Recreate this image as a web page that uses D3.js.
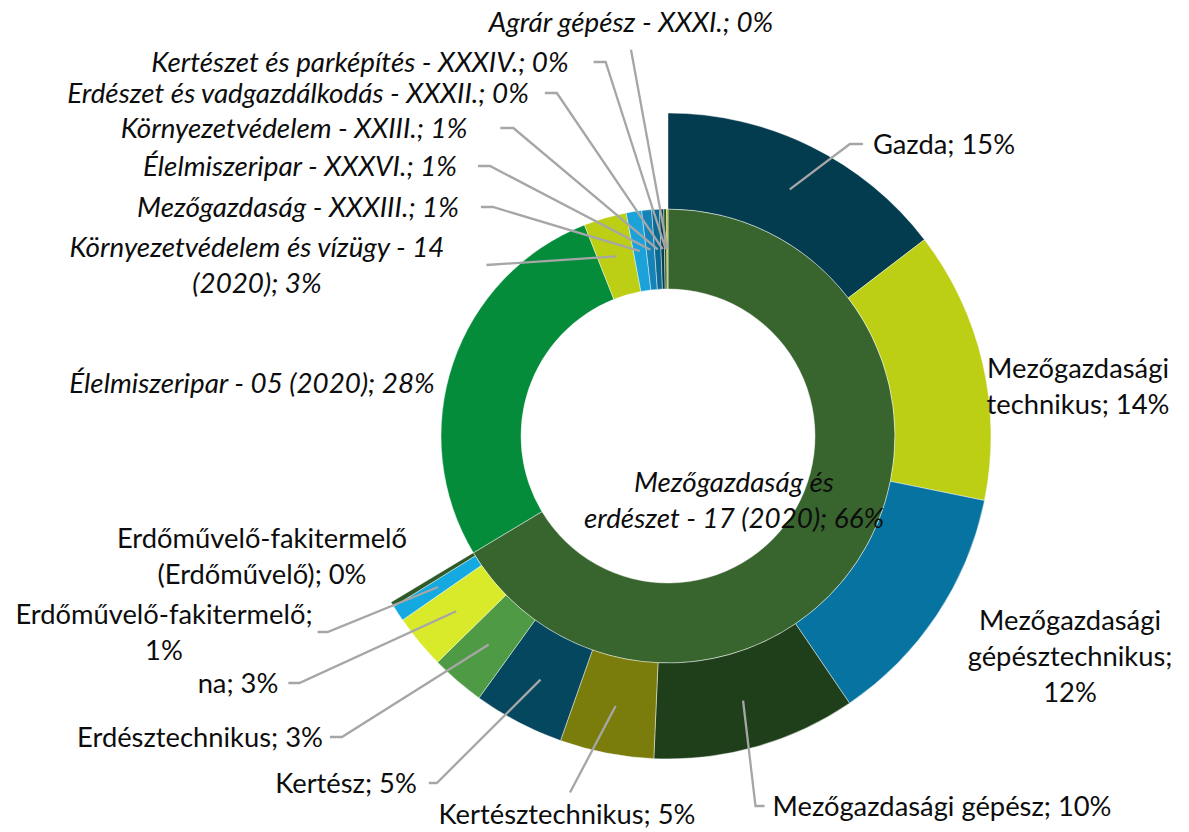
<!DOCTYPE html>
<html><head><meta charset="utf-8">
<script src="https://cdn.jsdelivr.net/npm/d3@7"></script>
<style>html,body{margin:0;padding:0;background:#fff;} svg{display:block;}</style>
</head><body>
<svg id="chart" width="1189" height="832"></svg>
<script>
// ---------- DATA (percent of total) ----------
const innerNames = [
  "Mezőgazdaság és erdészet - 17 (2020)",
  "Élelmiszeripar - 05 (2020)",
  "Környezetvédelem és vízügy - 14 (2020)",
  "Mezőgazdaság - XXXIII.",
  "Élelmiszeripar - XXXVI.",
  "Környezetvédelem - XXIII.",
  "Erdészet és vadgazdálkodás - XXXII.",
  "Kertészet és parképítés - XXXIV.",
  "Agrár gépész - XXXI."
];
// first category is the sum of its sub-categories (outer ring)
const innerValues = [null, 27.6, 3.05, 1.1, 0.7, 0.55, 0.3, 0.2, 0.1];
const innerColors = ["#38652e", "#048c3b", "#bccf14", "#1ba3d9", "#1583b7", "#0b6a92", "#053d52", "#2c5626", "#a8bb16"];

const outerNames = [
  "Gazda",
  "Mezőgazdasági technikus",
  "Mezőgazdasági gépésztechnikus",
  "Mezőgazdasági gépész",
  "Kertésztechnikus",
  "Kertész",
  "Erdésztechnikus",
  "na",
  "Erdőművelő-fakitermelő",
  "Erdőművelő-fakitermelő (Erdőművelő)"
];
const outerValues = [14.6, 13.6, 12.3, 10.2, 4.7, 4.55, 2.7, 2.7, 0.8, 0.25];
const outerColors = ["#033c4f", "#bccf14", "#0673a0", "#1f3f1b", "#7a7d0c", "#05475e", "#4f9a44", "#d8ea2a", "#14a9e0", "#2e5a28"];

// ---------- LAYOUT ----------
const W = 1189, H = 832, CX = 668, CY = 436;
const FONT = "Lato, 'Open Sans', 'DejaVu Sans', sans-serif";
const LINE_H = 36;
const labelLayout = {
  "Agrár gépész - XXXI.":                 {x: 631, y: 22,  italic: true,  lines: null, leader: {side: "bottom", gap: 12}},
  "Kertészet és parképítés - XXXIV.":     {x: 360, y: 62,  italic: true,  lines: null, leader: {side: "left", gap: 25, stub: 12}},
  "Erdészet és vadgazdálkodás - XXXII.":  {x: 298, y: 93,  italic: true,  lines: null, leader: {side: "left", gap: 16, stub: 12}},
  "Környezetvédelem - XXIII.":            {x: 294, y: 128, italic: true,  lines: null, leader: {side: "left", gap: 33, stub: 13}},
  "Élelmiszeripar - XXXVI.":              {x: 300, y: 166, italic: true,  lines: null, leader: {side: "left", gap: 21, stub: 12}},
  "Mezőgazdaság - XXXIII.":               {x: 298, y: 207, italic: true,  lines: null, leader: {side: "left", gap: 22, stub: 12}},
  "Környezetvédelem és vízügy - 14 (2020)": {x: 257, y: 265, italic: true, lines: [5, 2], leader: {side: "left", gap: 42, stub: 0}},
  "Élelmiszeripar - 05 (2020)":           {x: 252, y: 383, italic: true,  lines: null, leader: null},
  "Mezőgazdaság és erdészet - 17 (2020)": {x: 734, y: 500, italic: true,  lines: [2, 5], leader: null},
  "Gazda":                                {x: 944, y: 144, italic: false, lines: null, leader: {side: "right", gap: 10, stub: 13}},
  "Mezőgazdasági technikus":              {x: 1078, y: 386, italic: false, lines: [1, 2], leader: null},
  "Mezőgazdasági gépésztechnikus":        {x: 1070, y: 656, italic: false, lines: [1, 1, 1], leader: null},
  "Mezőgazdasági gépész":                 {x: 942, y: 806, italic: false, lines: null, leader: {side: "right", gap: 8, stub: 9}},
  "Kertésztechnikus":                     {x: 567, y: 814, italic: false, lines: null, leader: {side: "top", gap: 4}},
  "Kertész":                              {x: 346, y: 783, italic: false, lines: null, leader: {side: "left", gap: 12, stub: 8}},
  "Erdésztechnikus":                      {x: 200, y: 737, italic: false, lines: null, leader: {side: "left", gap: 7, stub: 12}},
  "na":                                   {x: 238, y: 683, italic: false, lines: null, leader: {side: "left", gap: 10, stub: 11}},
  "Erdőművelő-fakitermelő":               {x: 164, y: 632, italic: false, lines: [1, 1], leader: {side: "left", gap: 5, stub: 10}},
  "Erdőművelő-fakitermelő (Erdőművelő)":  {x: 262, y: 556, italic: false, lines: [1, 2], leader: null}
};

// ---------- HIERARCHY ----------
const rootData = {
  name: "root",
  children: innerNames.map((n, i) => i === 0
    ? {name: n, color: innerColors[i], children: outerNames.map((o, j) => ({name: o, value: outerValues[j], color: outerColors[j]}))}
    : {name: n, value: innerValues[i], color: innerColors[i]})
};
const root = d3.hierarchy(rootData).sum(d => d.children ? 0 : d.value);
d3.partition().size([2 * Math.PI, 3])(root);

const radius = d3.scaleLinear().domain([1, 2, 3]).range([147, 227, 323]);
const arc = d3.arc()
  .startAngle(d => d.x0).endAngle(d => d.x1)
  .innerRadius(d => radius(d.y0)).outerRadius(d => radius(d.y1));

const svg = d3.select("#chart");
svg.append("rect").attr("width", W).attr("height", H).attr("fill", "#fff");
const g = svg.append("g").attr("transform", `translate(${CX},${CY})`);

const nodes = root.descendants().filter(d => d.depth > 0);
g.selectAll("path.seg").data(nodes).join("path")
  .attr("class", "seg")
  .attr("d", arc)
  .attr("fill", d => d.data.color)
  .attr("stroke", "#ffffff").attr("stroke-opacity", 0.55).attr("stroke-width", 0.8);

// ---------- FONT CALIBRATION ----------
function calib(txt, target, italic) {
  const p = svg.append("text").attr("font-family", FONT).attr("font-size", 100)
    .attr("font-style", italic ? "italic" : "normal").text(txt);
  const w = p.node().getComputedTextLength();
  p.remove();
  return 100 * target / w;
}
const fsNormal = calib("Erdésztechnikus; 3%", 246, false);
const fsItalic = calib("Mezőgazdaság - XXXIII.; 1%", 322, true);

// ---------- LABELS ----------
const total = root.value;
const pctText = d => Math.round(d.value / total * 100) + "%";
const leaderLayer = svg.append("g");
const labelLayer = svg.append("g");

nodes.forEach(d => {
  const L = labelLayout[d.data.name];
  if (!L) return;
  const full = `${d.data.name}; ${pctText(d)}`;
  const words = full.split(" ");
  let lines = [full];
  if (L.lines) {
    lines = []; let k = 0;
    L.lines.forEach(c => { lines.push(words.slice(k, k + c).join(" ")); k += c; });
  }
  const t = labelLayer.append("text")
    .attr("font-family", FONT)
    .attr("font-size", L.italic ? fsItalic : fsNormal)
    .attr("font-style", L.italic ? "italic" : "normal")
    .attr("fill", "#0d0d0d")
    .attr("text-anchor", "middle");
  lines.forEach((ln, i) => {
    t.append("tspan").attr("x", L.x)
      .attr("y", L.y + (i - (lines.length - 1) / 2) * LINE_H)
      .attr("dy", "0.35em")
      .text(ln);
  });
  if (L.leader) {
    const bb = t.node().getBBox();
    const [cx0, cy0] = arc.centroid(d);
    const px = CX + cx0, py = CY + cy0;
    const s = L.leader;
    let pts;
    if (s.side === "left") {
      const x1 = bb.x + bb.width + s.gap;
      pts = [[x1, L.y], [x1 + s.stub, L.y], [px, py]];
    } else if (s.side === "right") {
      const x1 = bb.x - s.gap;
      pts = [[x1, L.y], [x1 - s.stub, L.y], [px, py]];
    } else if (s.side === "bottom") {
      pts = [[L.x, bb.y + bb.height + s.gap], [px, py]];
    } else {
      pts = [[L.x + 3, bb.y - s.gap], [px, py]];
    }
    leaderLayer.append("path")
      .attr("d", d3.line()(pts))
      .attr("fill", "none")
      .attr("stroke", "#a6a6a6")
      .attr("stroke-width", 2.3);
  }
});
</script>
</body></html>
